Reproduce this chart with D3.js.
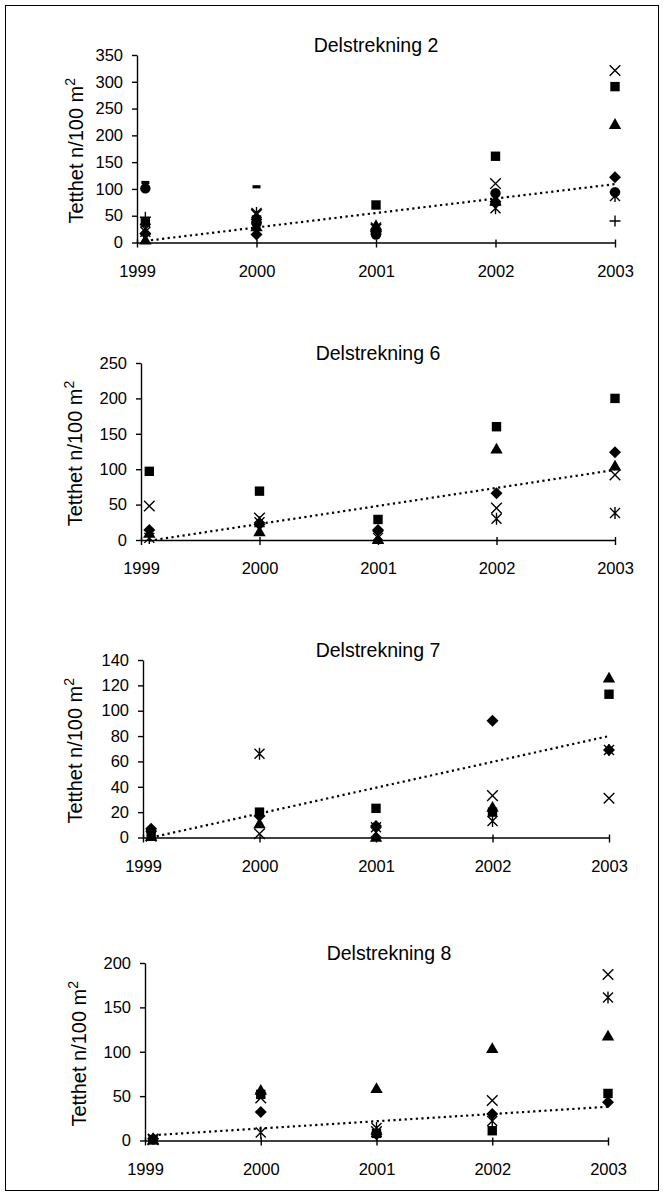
<!DOCTYPE html>
<html>
<head>
<meta charset="utf-8">
<script src="https://cdn.jsdelivr.net/npm/d3@7"></script>
<style>
  body { margin: 0; background: #fff; }
  svg { display: block; }
  text { font-family: "Liberation Sans", Arial, sans-serif; fill: #000; }
</style>
</head>
<body>
<svg id="chart" width="664" height="1198"></svg>
<script>
// Years on the x axis and the x value used for each survey
const yearTicks = [1999, 2000, 2001, 2002, 2003];
const sampleYears = [1999.07, 2000, 2001, 2002, 2003];

// Marker used for each row of a panel's values (one row per site)
const markerKinds = ["diamond", "square", "triangle", "cross", "asterisk", "circle", "plus", "dash"];

// Delstrekning 2: density per 100 m2, one row per marker kind
const d2Values = [
  [17, 15, 20, 76, 122],
  [38, 42, 70, 161, 291],
  [5, 30, 32, 78, 221],
  [25, 52, 25, 110, 321],
  [20, 55, 28, 64, 87],
  [101, 36, 15, 92, 94],
  [47, 38, 22, 70, 40],
  [112, 104, null, null, null]
];
const d2Trend = [3, 109];
const d2Ticks = [0, 50, 100, 150, 200, 250, 300, 350];

// Delstrekning 6
const d6Values = [
  [14, 22, 14, 66, 124],
  [97, 69, 29, 160, 200],
  [10, 12, 1, 129, 105],
  [48, 31, 6, 45, 92],
  [3, 25, 3, 30, 38]
];
const d6Trend = [-1, 99];
const d6Ticks = [0, 50, 100, 150, 200, 250];

// Delstrekning 7
const d7Values = [
  [7, 17, 9, 92, 69],
  [3, 20, 23, 20, 113],
  [1, 11, 0.5, 24, 126],
  [1, 3, 4, 33, 31],
  [2, 66, 8, 13, 69]
];
const d7Trend = [0, 80];
const d7Ticks = [0, 20, 40, 60, 80, 100, 120, 140];

// Delstrekning 8
const d8Values = [
  [2, 32, 7, 30, 43],
  [1, 52, 8, 11, 53],
  [1, 57, 59, 104, 118],
  [1, 48, 10, 45, 187],
  [2, 9, 14, 22, 161]
];
const d8Trend = [6, 38];
const d8Ticks = [0, 50, 100, 150, 200];

// Panel layout (pixel positions of each plot area)
const panels = [
  { title: "Delstrekning 2", values: d2Values, trend: d2Trend, ticks: d2Ticks,
    x0: 137, x1: 615, yTop: 55, yBot: 242.5, titleX: 376, titleY: 52, labelX: 83 },
  { title: "Delstrekning 6", values: d6Values, trend: d6Trend, ticks: d6Ticks,
    x0: 141, x1: 615, yTop: 363, yBot: 540, titleX: 378, titleY: 360, labelX: 82 },
  { title: "Delstrekning 7", values: d7Values, trend: d7Trend, ticks: d7Ticks,
    x0: 143, x1: 609, yTop: 660, yBot: 837.5, titleX: 378, titleY: 657, labelX: 82 },
  { title: "Delstrekning 8", values: d8Values, trend: d8Trend, ticks: d8Ticks,
    x0: 145, x1: 608, yTop: 963, yBot: 1140.5, titleX: 389, titleY: 960, labelX: 86 }
];

// Marker outlines, centred on 0,0
function markerPath(kind) {
  switch (kind) {
    case "diamond": return "M0,-6L6,0L0,6L-6,0Z";
    case "square": return "M-4.7,-4.7H4.7V4.7H-4.7Z";
    case "triangle": return "M0,-6L6.2,4.8L-6.2,4.8Z";
    case "cross": return "M-5.3,-5.3L5.3,5.3M-5.3,5.3L5.3,-5.3";
    case "asterisk": return "M-5,-5L5,5M-5,5L5,-5M0,-6V6";
    case "circle": return d3.arc()({ innerRadius: 0, outerRadius: 5.2, startAngle: 0, endAngle: 2 * Math.PI });
    case "plus": return "M-5.5,0H5.5M0,-5.5V5.5";
    case "dash": return "M-4,-1.6H4V1.6H-4Z";
  }
}
const strokedKinds = new Set(["cross", "asterisk", "plus"]);

const svg = d3.select("#chart");

// Outer frame
svg.append("rect")
  .attr("x", 5.5).attr("y", 5.5)
  .attr("width", 653).attr("height", 1185)
  .attr("fill", "none").attr("stroke", "#000").attr("stroke-width", 1);

panels.forEach(p => {
  const g = svg.append("g");
  const yMax = p.ticks[p.ticks.length - 1];
  const x = d3.scaleLinear().domain([1999, 2003]).range([p.x0, p.x1]);
  const y = d3.scaleLinear().domain([0, yMax]).range([p.yBot, p.yTop]);

  // Title
  g.append("text")
    .attr("x", p.titleX).attr("y", p.titleY)
    .attr("text-anchor", "middle")
    .attr("font-size", 19.5)
    .text(p.title);

  // Y axis title
  const lbl = g.append("text")
    .attr("transform", `translate(${p.labelX},${(p.yTop + p.yBot) / 2 + 2}) rotate(-90)`)
    .attr("text-anchor", "middle")
    .attr("font-size", 20);
  lbl.append("tspan").text("Tetthet n/100 m");
  lbl.append("tspan").attr("font-size", 14).attr("dy", -8).text("2");

  // Y axis
  const yAxis = g.append("g")
    .attr("transform", `translate(${p.x0},0)`)
    .call(d3.axisLeft(y).tickValues(p.ticks).tickSize(5).tickSizeOuter(0).tickPadding(9));
  yAxis.selectAll("text").attr("font-size", 16.5).attr("fill", "#000");

  // X axis
  const xAxis = g.append("g")
    .attr("transform", `translate(0,${p.yBot})`)
    .call(d3.axisBottom(x).tickValues(yearTicks).tickFormat(d3.format("d")).tickSize(5).tickSizeOuter(0));
  xAxis.selectAll(".tick line").attr("y1", -3);
  xAxis.selectAll("text").attr("y", 34).attr("dy", null).attr("font-size", 16.5).attr("fill", "#000");

  [yAxis, xAxis].forEach(a => {
    a.selectAll("path.domain, line").attr("stroke", "#000").attr("stroke-width", 1.4);
    a.attr("font-family", null);
  });

  // Points
  p.values.forEach((row, i) => {
    const kind = markerKinds[i];
    const stroked = strokedKinds.has(kind);
    g.append("g").selectAll("path")
      .data(row.map((v, j) => ({ x: sampleYears[j], v })).filter(d => d.v !== null))
      .join("path")
      .attr("transform", d => `translate(${x(d.x)},${y(d.v)})`)
      .attr("d", markerPath(kind))
      .attr("fill", stroked ? "none" : "#000")
      .attr("stroke", stroked ? "#000" : "none")
      .attr("stroke-width", 1.4);
  });

  // Linear trend line
  g.append("line")
    .attr("x1", x(sampleYears[0])).attr("y1", y(p.trend[0]))
    .attr("x2", x(sampleYears[sampleYears.length - 1])).attr("y2", y(p.trend[1]))
    .attr("stroke", "#000")
    .attr("stroke-width", 2.2)
    .attr("stroke-dasharray", "2.2 3.4");
});
</script>
</body>
</html>
